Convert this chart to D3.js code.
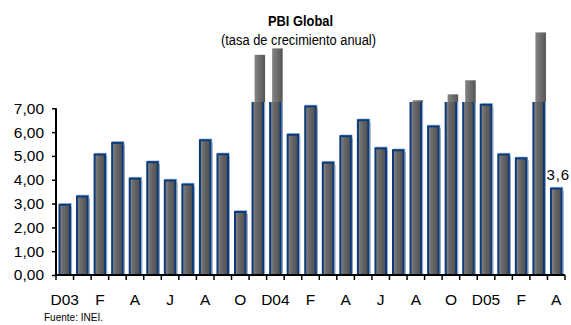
<!DOCTYPE html>
<html>
<head>
<meta charset="utf-8">
<script src="https://cdn.jsdelivr.net/npm/d3@7"></script>
<style>
  html, body { margin: 0; padding: 0; background: #fff; }
  svg { display: block; }
</style>
</head>
<body>
<svg id="chart" width="571" height="325"></svg>
<script>
// ---- data ----
const categories = ["D03","E","F","M","A","M","J","J","A","S","O","N",
                    "D04","E","F","M","A","M","J","J","A","S","O","N",
                    "D05","E","F","M","A"];
const values = [2.95,3.30,5.06,5.55,4.05,4.74,3.97,3.80,5.66,5.07,2.65,9.33,
                9.60,5.89,7.08,4.72,5.83,6.50,5.32,5.24,7.42,6.24,7.67,8.26,
                7.15,5.06,4.90,10.27,3.63];
const yTicks = [0,1,2,3,4,5,6,7];
const title = "PBI Global";
const subtitle = "(tasa de crecimiento anual)";
const source = "Fuente: INEI.";
const lastLabel = "3,6";

// ---- layout ----
const svg = d3.select("#chart");
const left = 56, right = 565, bottom = 275, top7 = 108.3, clipTop = 102;
const sans = "'Liberation Sans',Arial,sans-serif";

const x = d3.scaleBand()
  .domain(d3.range(categories.length))
  .range([left, right])
  .paddingInner(0.4).paddingOuter(0.2);
const y = d3.scaleLinear().domain([0, 7]).range([bottom, top7]);
const loc = d3.formatLocale({decimal: ",", thousands: ".", grouping: [3], currency: ["", ""]});
const fmt = loc.format(".2f");

const defs = svg.append("defs");
const g1 = defs.append("linearGradient").attr("id", "barGrad").attr("x1", 0).attr("x2", 1).attr("y1", 0).attr("y2", 0);
g1.append("stop").attr("offset", "0%").attr("stop-color", "#929292");
g1.append("stop").attr("offset", "30%").attr("stop-color", "#6c6c6c");
g1.append("stop").attr("offset", "100%").attr("stop-color", "#4e4e4e");
const g2 = defs.append("linearGradient").attr("id", "shGrad").attr("x1", 0).attr("x2", 1).attr("y1", 0).attr("y2", 0);
g2.append("stop").attr("offset", "0%").attr("stop-color", "#848484");
g2.append("stop").attr("offset", "100%").attr("stop-color", "#555555");
defs.append("clipPath").attr("id", "plotClip")
  .append("rect").attr("x", left - 5).attr("y", clipTop)
  .attr("width", right - left + 10).attr("height", bottom - clipTop + 5);

// shadow bars (unclipped)
svg.append("g").selectAll("rect").data(values).join("rect")
  .attr("x", (d, i) => x(i) + 2)
  .attr("y", d => y(d) + 2)
  .attr("width", x.bandwidth())
  .attr("height", d => Math.max(0, y(0) - y(d) - 2))
  .attr("fill", "url(#shGrad)");

const front = svg.append("g").attr("clip-path", "url(#plotClip)");
// light-blue highlight
front.selectAll("rect.hl").data(values).join("rect").attr("class", "hl")
  .attr("x", (d, i) => x(i) + 1)
  .attr("y", d => y(d) - 1)
  .attr("width", x.bandwidth())
  .attr("height", d => y(0) - y(d))
  .attr("fill", "none").attr("stroke", "#a9c6ea").attr("stroke-width", 1.5);
// main bars
front.selectAll("rect.bar").data(values).join("rect").attr("class", "bar")
  .attr("x", (d, i) => x(i))
  .attr("y", d => y(d))
  .attr("width", x.bandwidth())
  .attr("height", d => y(0) - y(d))
  .attr("fill", "url(#barGrad)")
  .attr("stroke", "#0b3a78").attr("stroke-width", 2);

// y axis
const yAxis = d3.axisLeft(y).tickValues(yTicks).tickFormat(fmt).tickSize(4).tickPadding(8);
const ya = svg.append("g").attr("transform", `translate(${left},0)`).call(yAxis);
ya.select(".domain").attr("stroke", "#000").attr("stroke-width", 2)
  .attr("d", `M0,${top7}V${bottom}`);
ya.selectAll(".tick line").attr("stroke", "#000").attr("stroke-width", 1.5);
ya.selectAll(".tick text").attr("font-family", sans).attr("font-size", 15.5).attr("fill", "#000");

// x axis
const step = x.step();
const boundaries = d3.range(categories.length + 1).map(i => left + i * step);
const xa = svg.append("g");
xa.append("line").attr("x1", left).attr("x2", right).attr("y1", bottom).attr("y2", bottom)
  .attr("stroke", "#000").attr("stroke-width", 2);
xa.selectAll("line.t").data(boundaries).join("line").attr("class", "t")
  .attr("x1", d => d).attr("x2", d => d).attr("y1", bottom).attr("y2", bottom + 5)
  .attr("stroke", "#000").attr("stroke-width", 1.5);
xa.selectAll("text").data(categories.map((c, i) => ({c, i})).filter(d => d.i % 2 === 0)).join("text")
  .attr("x", d => x(d.i) + x.bandwidth() / 2)
  .attr("y", 305)
  .attr("text-anchor", "middle")
  .attr("font-family", sans).attr("font-size", 15.5).attr("fill", "#000")
  .text(d => d.c);

// data label for last bar
const li = values.length - 1;
svg.append("text")
  .attr("x", x(li) + x.bandwidth() / 2 + 2)
  .attr("y", y(values[li]) - 9)
  .attr("text-anchor", "middle")
  .attr("font-family", sans).attr("font-size", 15).attr("letter-spacing", 0.8)
  .attr("fill", "#000").text(lastLabel);

// titles (narrow look via textLength)
svg.append("text").attr("x", 268).attr("y", 25.5)
  .attr("font-family", sans).attr("font-weight", "bold").attr("font-size", 14.5)
  .attr("textLength", 65).attr("lengthAdjust", "spacingAndGlyphs")
  .attr("fill", "#000").text(title);
svg.append("text").attr("x", 221).attr("y", 45)
  .attr("font-family", sans).attr("font-size", 14)
  .attr("textLength", 155).attr("lengthAdjust", "spacingAndGlyphs")
  .attr("fill", "#000").text(subtitle);
svg.append("text").attr("x", 44).attr("y", 320.5)
  .attr("font-family", sans).attr("font-size", 10.5)
  .attr("textLength", 59).attr("lengthAdjust", "spacingAndGlyphs")
  .attr("fill", "#000").text(source);
</script>
</body>
</html>
